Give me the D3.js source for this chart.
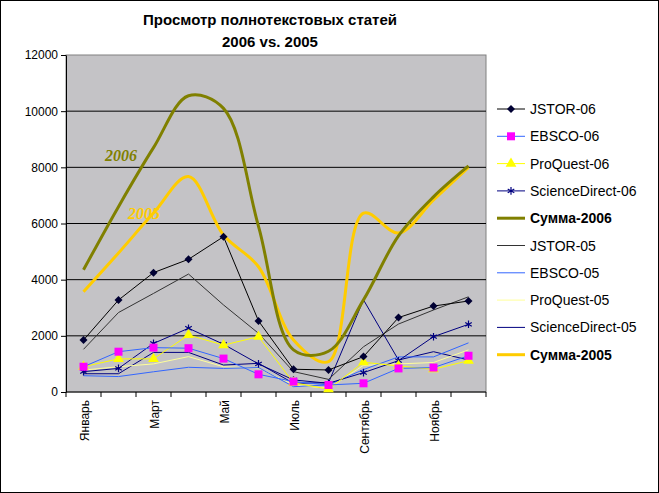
<!DOCTYPE html>
<html>
<head>
<meta charset="utf-8">
<script src="https://cdn.jsdelivr.net/npm/d3@7"></script>
<style>
  body { margin: 0; background: #fff; }
  svg { font-family: Arial, "Liberation Sans", sans-serif; }
</style>
</head>
<body>
<svg id="chart" width="659" height="493"></svg>
<script>
const months = ['Январь', 'Февраль', 'Март', 'Апрель', 'Май', 'Июнь', 'Июль', 'Август', 'Сентябрь', 'Октябрь', 'Ноябрь', 'Декабрь'];
const yTicks = [0, 2000, 4000, 6000, 8000, 10000, 12000];

const jstor06 = [1850, 3275, 4250, 4725, 5530, 2530, 810, 785, 1260, 2650, 3060, 3240];
const ebsco06 = [900, 1435, 1580, 1560, 1190, 630, 370, 250, 310, 840, 870, 1290];
const proquest06 = [900, 1180, 1180, 2030, 1670, 1970, 330, 100, 1060, 925, 810, 1115];
const sd06 = [725, 840, 1730, 2270, 1700, 1000, 430, 310, 690, 1115, 1970, 2410];
const sum06 = [4350, 6600, 8700, 10550, 10100, 5900, 1500, 1450, 3280, 5560, 6950, 8050];
const jstor05 = [1520, 2830, 3510, 4200, 3100, 2090, 725, 450, 1610, 2420, 2920, 3390];
const ebsco05 = [580, 550, 720, 880, 840, 870, 190, 250, 800, 1250, 1250, 1750];
const proquest05 = [780, 900, 1000, 1260, 900, 850, 250, 130, 950, 1000, 1050, 1500];
const sd05 = [650, 650, 1410, 1410, 960, 1020, 310, 330, 3280, 1140, 1435, 1140];
const sum05 = [3570, 4950, 6370, 7670, 5590, 4460, 1850, 1080, 6370, 5660, 6840, 8000];

const series = [
  { name: 'JSTOR-06', values: jstor06, color: '#000000', width: 1, marker: 'diamond', mcolor: '#000033' },
  { name: 'EBSCO-06', values: ebsco06, color: '#3366ff', width: 1, marker: 'square', mcolor: '#ff00ff' },
  { name: 'ProQuest-06', values: proquest06, color: '#ffff00', width: 1, marker: 'triangle', mcolor: '#ffff00' },
  { name: 'ScienceDirect-06', values: sd06, color: '#000080', width: 1, marker: 'star', mcolor: '#000080' },
  { name: 'Сумма-2006', values: sum06, color: '#808000', width: 3, smooth: true, bold: true },
  { name: 'JSTOR-05', values: jstor05, color: '#333333', width: 1 },
  { name: 'EBSCO-05', values: ebsco05, color: '#3366ff', width: 1 },
  { name: 'ProQuest-05', values: proquest05, color: '#ffff99', width: 1 },
  { name: 'ScienceDirect-05', values: sd05, color: '#000080', width: 1 },
  { name: 'Сумма-2005', values: sum05, color: '#ffcc00', width: 3, smooth: true, bold: true }
];

const svg = d3.select('#chart');
const plot = { left: 66, right: 486, top: 55, bottom: 392 };

svg.append('rect').attr('x', 0.5).attr('y', 0.5).attr('width', 658).attr('height', 492)
  .attr('fill', '#fff').attr('stroke', '#000');

svg.append('text').attr('x', 270).attr('y', 25).attr('text-anchor', 'middle')
  .attr('font-size', 15).attr('font-weight', 'bold').text('Просмотр полнотекстовых статей');
svg.append('text').attr('x', 270).attr('y', 47).attr('text-anchor', 'middle')
  .attr('font-size', 15).attr('font-weight', 'bold').text('2006 vs. 2005');

const x = d3.scaleBand().domain(months).range([plot.left, plot.right]);
const y = d3.scaleLinear().domain([0, 12000]).range([plot.bottom, plot.top]);
const cx = m => x(m) + x.bandwidth() / 2;

svg.append('rect').attr('x', plot.left).attr('y', plot.top)
  .attr('width', plot.right - plot.left).attr('height', plot.bottom - plot.top)
  .attr('fill', '#c4c3c6').attr('stroke', '#808080');

svg.append('g').selectAll('line').data(yTicks.slice(1, -1)).join('line')
  .attr('x1', plot.left).attr('x2', plot.right)
  .attr('y1', d => y(d)).attr('y2', d => y(d))
  .attr('stroke', '#000');

const yAxis = svg.append('g').attr('transform', `translate(${plot.left},0)`)
  .call(d3.axisLeft(y).tickValues(yTicks).tickSize(5).tickSizeOuter(0).tickFormat(d3.format('d')));
yAxis.selectAll('text').attr('font-size', 12).attr('font-family', 'Arial').attr('fill', '#000');

const xAxis = svg.append('g').attr('transform', `translate(0,${plot.bottom})`);
xAxis.append('line').attr('x1', plot.left).attr('x2', plot.right).attr('stroke', '#000');
xAxis.selectAll('.tk').data(months.concat(['end'])).join('line')
  .attr('x1', (d, i) => plot.left + i * x.bandwidth()).attr('x2', (d, i) => plot.left + i * x.bandwidth())
  .attr('y1', 0).attr('y2', 5).attr('stroke', '#000');
xAxis.selectAll('text').data(months.filter((d, i) => i % 2 === 0)).join('text')
  .attr('transform', d => `translate(${cx(d) + 5},8) rotate(-90)`)
  .attr('text-anchor', 'end').attr('font-size', 12).text(d => d);

const line = d3.line().x((d, i) => cx(months[i])).y(d => y(d));
const smoothLine = d3.line().x((d, i) => cx(months[i])).y(d => y(d)).curve(d3.curveCatmullRom.alpha(0.5));

[9, 8, 7, 6, 5, 4, 3, 2, 1, 0].forEach(k => {
  const s = series[k];
  svg.append('path').datum(s.values)
    .attr('d', s.smooth ? smoothLine : line)
    .attr('fill', 'none').attr('stroke', s.color).attr('stroke-width', s.width);
});

function marker(g, type, color, px, py) {
  if (type === 'diamond') {
    g.append('path').attr('d', 'M0,-4L4,0L0,4L-4,0Z').attr('transform', `translate(${px},${py})`).attr('fill', color);
  } else if (type === 'square') {
    g.append('rect').attr('x', px - 4).attr('y', py - 4).attr('width', 8).attr('height', 8).attr('fill', color);
  } else if (type === 'triangle') {
    g.append('path').attr('d', d3.symbol(d3.symbolTriangle, 50)()).attr('transform', `translate(${px},${py})`).attr('fill', color);
  } else if (type === 'star') {
    g.append('path').attr('d', d3.symbol(d3.symbolAsterisk, 40)()).attr('transform', `translate(${px},${py})`)
      .attr('fill', 'none').attr('stroke', color).attr('stroke-width', 1.2);
  }
}

[3, 2, 1, 0].forEach(k => {
  const s = series[k];
  const g = svg.append('g');
  s.values.forEach((v, i) => marker(g, s.marker, s.mcolor, cx(months[i]), y(v)));
});

svg.append('text').attr('x', 105).attr('y', 161).attr('font-family', 'Times New Roman, Liberation Serif, serif')
  .attr('font-style', 'italic').attr('font-weight', 'bold').attr('font-size', 16).attr('fill', '#808000').text('2006');
svg.append('text').attr('x', 128).attr('y', 219).attr('font-family', 'Times New Roman, Liberation Serif, serif')
  .attr('font-style', 'italic').attr('font-weight', 'bold').attr('font-size', 16).attr('fill', '#ffcc00').text('2005');

const legend = svg.append('g');
series.forEach((s, i) => {
  const ly = 109 + i * 27.3;
  legend.append('line').attr('x1', 497).attr('x2', 525).attr('y1', ly).attr('y2', ly)
    .attr('stroke', s.color).attr('stroke-width', s.width);
  if (s.marker) marker(legend, s.marker, s.mcolor, 511, ly);
  legend.append('text').attr('x', 530).attr('y', ly + 5).attr('font-size', 14)
    .attr('font-weight', s.bold ? 'bold' : 'normal').text(s.name);
});
</script>
</body>
</html>
